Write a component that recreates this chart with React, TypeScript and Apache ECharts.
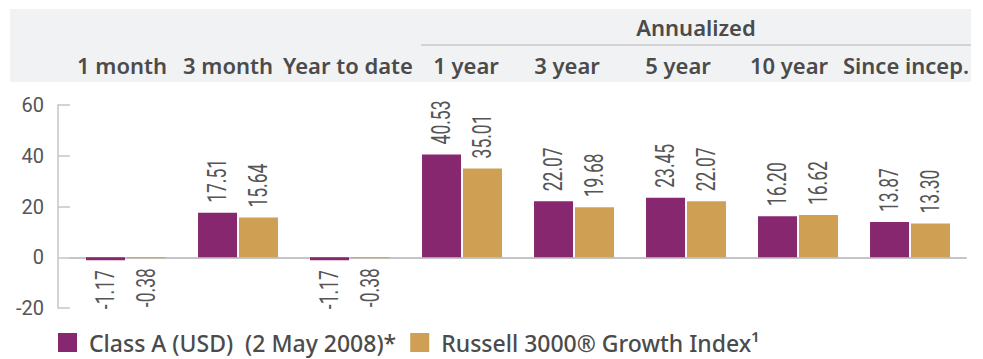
import React, { useEffect, useRef } from "react";
import * as echarts from "echarts";

const categories = ["1 month", "3 month", "Year to date", "1 year", "3 year", "5 year", "10 year", "Since incep."];
const classAValues = [-1.17, 17.51, -1.17, 40.53, 22.07, 23.45, 16.2, 13.87];
const russellValues = [-0.38, 15.64, -0.38, 35.01, 19.68, 22.07, 16.62, 13.3];
const seriesNames = ["Class A (USD)  (2 May 2008)*", "Russell 3000® Growth Index¹"];
const yTicks = { min: -20, max: 60, interval: 20 };
const groupTitle = "Annualized";
// horizontal nudge (px) of each header label relative to its column centre (style only)
const headerNudge = [-4, -10, -2, 4, -7, -8, -9, -4];

const NARROW = "Roboto, sans-serif";
const SANS = '"Noto Sans", "Open Sans", sans-serif';
const PURPLE = "#87276f";
const GOLD = "#cfa054";
const TEXT = "#4b4b4b";
const BAR_WIDTH = 39;
const BAR_GAP_PX = 2;

function labelSeries(name: string, values: number[], side: number) {
  return {
    name,
    type: "custom",
    z: 5,
    silent: true,
    data: values.map((v, i) => [i, v]),
    renderItem: (_params: any, api: any) => {
      const idx = api.value(0);
      const v = api.value(1);
      const pt = api.coord([idx, v]);
      const shift = (side * (BAR_WIDTH + BAR_GAP_PX)) / 2;
      const neg = v < 0;
      return {
        type: "text",
        x: pt[0] + shift,
        y: pt[1] + (neg ? 10 : -10),
        rotation: Math.PI / 2,
        scaleX: 0.7,
        style: {
          text: Number(v).toFixed(2),
          fill: "#555555",
          font: `400 25px ${NARROW}`,
          align: neg ? "right" : "left",
          verticalAlign: "middle",
        },
      };
    },
  };
}

export default function App() {
  const ref = useRef<HTMLDivElement>(null);
  useEffect(() => {
    if (!ref.current) return;
    const chart = echarts.init(ref.current, null, { renderer: "svg" });
    const headerData = categories.map((c, i) => {
      const n = headerNudge[i];
      return {
        value: c,
        textStyle: { padding: [0, n < 0 ? -2 * n : 0, 0, n > 0 ? 2 * n : 0] },
      };
    });
    chart.setOption({
      animation: false,
      graphic: [
        {
          type: "rect",
          z: -10,
          shape: { x: 10, y: 9, width: 961, height: 73 },
          style: { fill: "#f1f2f4" },
          silent: true,
        },
        {
          type: "line",
          z: -5,
          shape: { x1: 421, y1: 45, x2: 971, y2: 45 },
          style: { stroke: "#c8c9cc", lineWidth: 1.5 },
          silent: true,
        },
        {
          type: "text",
          x: 696,
          y: 27,
          style: {
            text: groupTitle,
            fill: TEXT,
            font: `600 22px ${SANS}`,
            textAlign: "center",
            textVerticalAlign: "middle",
          },
        },
      ],
      legend: {
        left: 58,
        top: 331,
        padding: 0,
        itemWidth: 19,
        itemHeight: 19,
        itemGap: 14,
        icon: "rect",
        data: seriesNames,
        textStyle: {
          padding: [0, 0, 0, 7],
          fontFamily: SANS,
          fontSize: 23,
          fontWeight: 500,
          color: TEXT,
        },
      },
      grid: { left: 70, right: 17, top: 105, bottom: 51, containLabel: false },
      xAxis: [
        {
          type: "category",
          data: categories,
          axisLine: { show: true, onZero: true, lineStyle: { color: "#c4c5c9", width: 2 } },
          axisTick: { show: false },
          axisLabel: { show: false },
          splitLine: { show: false },
        },
        {
          type: "category",
          position: "top",
          data: headerData,
          axisLine: { show: false },
          axisTick: { show: false },
          axisLabel: {
            show: true,
            interval: 0,
            margin: 29,
            fontFamily: SANS,
            fontSize: 22,
            fontWeight: 600,
            color: TEXT,
          },
        },
      ],
      yAxis: {
        type: "value",
        min: yTicks.min,
        max: yTicks.max,
        interval: yTicks.interval,
        offset: 12,
        axisLine: { show: true, lineStyle: { color: "#c4c5c9", width: 1.5 } },
        axisTick: { show: true, inside: true, length: 12, lineStyle: { color: "#c4c5c9", width: 1.5 } },
        splitLine: { show: false },
        axisLabel: { margin: 14, fontFamily: NARROW, fontSize: 20, color: "#555555" },
      },
      series: [
        {
          name: seriesNames[0],
          type: "bar",
          data: classAValues,
          barWidth: BAR_WIDTH,
          barGap: "5%",
          itemStyle: { color: PURPLE },
        },
        {
          name: seriesNames[1],
          type: "bar",
          data: russellValues,
          barWidth: BAR_WIDTH,
          barGap: "5%",
          itemStyle: { color: GOLD },
        },
        labelSeries("labels-a", classAValues, -1),
        labelSeries("labels-b", russellValues, 1),
      ],
    });
    return () => chart.dispose();
  }, []);
  return (
    <div
      ref={ref}
      style={{ position: "fixed", left: 0, top: 0, width: 983, height: 359, background: "#ffffff" }}
    />
  );
}
